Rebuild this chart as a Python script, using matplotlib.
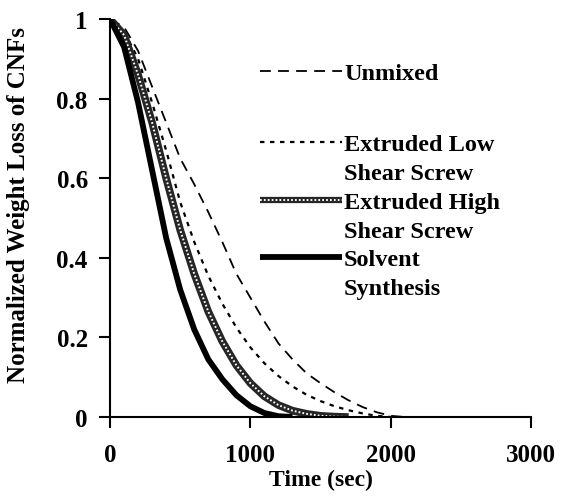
import matplotlib.pyplot as plt
from matplotlib.lines import Line2D

plt.rcParams['font.family'] = ['Liberation Serif', 'DejaVu Serif']
plt.rcParams['font.weight'] = 'bold'
plt.rcParams['axes.labelweight'] = 'bold'

# data (time in sec, normalized weight loss)
t_unmixed = [0, 100, 200, 300, 400, 500, 600, 700, 800, 900, 1000, 1100,
             1200, 1300, 1400, 1500, 1600, 1700, 1800, 1900, 2000, 2100]
w_unmixed = [1.0, 0.98, 0.92, 0.83, 0.74, 0.65, 0.585, 0.515, 0.44, 0.36, 0.30,
             0.24, 0.185, 0.145, 0.11, 0.085, 0.062, 0.042, 0.025, 0.012, 0.003, 0.0]

t_low = [0, 100, 200, 300, 400, 500, 600, 700, 800, 900, 1000, 1100,
         1200, 1300, 1400, 1500, 1600, 1700, 1800, 1900, 2000]
w_low = [1.0, 0.97, 0.90, 0.79, 0.67, 0.54, 0.44, 0.355, 0.285, 0.225, 0.175,
         0.135, 0.103, 0.077, 0.056, 0.04, 0.027, 0.017, 0.009, 0.003, 0.0]

t_high = [0, 100, 200, 300, 400, 500, 600, 700, 800, 900, 1000, 1100,
          1200, 1300, 1400, 1500, 1600, 1700]
w_high = [1.0, 0.96, 0.86, 0.74, 0.60, 0.47, 0.36, 0.265, 0.19, 0.13, 0.085,
          0.052, 0.03, 0.016, 0.008, 0.003, 0.001, 0.0]

t_solv = [0, 100, 200, 300, 400, 500, 600, 700, 800, 900, 1000, 1100, 1200, 1300]
w_solv = [1.0, 0.93, 0.79, 0.62, 0.45, 0.32, 0.22, 0.145, 0.095, 0.055, 0.027,
          0.01, 0.002, 0.0]

labels = [['Unmixed'], ['Extruded Low', 'Shear Screw'],
          ['Extruded High', 'Shear Screw'], ['Solvent', 'Synthesis']]

fig = plt.figure(figsize=(5.68, 5.02), dpi=100)
ax = fig.add_axes([0.1937, 0.1673, 0.7413, 0.7927])

dash_style = dict(color='black', lw=1.3, ls=(0, (6, 4)))
dot_style = dict(color='black', lw=1.6, ls=(0, (2, 2.5)))
solid_style = dict(color='black', lw=4.2, solid_capstyle='butt')
band_outer = dict(color='#262626', lw=5.5, solid_capstyle='butt')
band_inner = dict(color='white', lw=1.4, ls=(0, (0.9, 1.1)))

ax.plot(t_unmixed, w_unmixed, **dash_style)
ax.plot(t_low, w_low, **dot_style)
ax.plot(t_high, w_high, **band_outer)
ax.plot(t_high, w_high, **band_inner)
ax.plot(t_solv, w_solv, **solid_style)

ax.set_xlim(0, 3000)
ax.set_ylim(0, 1)
ax.set_xticks([0, 1000, 2000, 3000])
ax.set_yticks([0, 0.2, 0.4, 0.6, 0.8, 1])
ax.set_yticklabels(['0', '0.2', '0.4', '0.6', '0.8', '1'])
for s in ['top', 'right']:
    ax.spines[s].set_visible(False)
for s in ['left', 'bottom']:
    ax.spines[s].set_linewidth(1.5)
ax.tick_params(axis='x', direction='out', length=8, width=1.5, pad=11, labelsize=18)
ax.tick_params(axis='y', direction='out', length=8, width=1.5, pad=8, labelsize=18)

ax.set_xlabel('Time (sec)', fontsize=17, labelpad=2)
ax.set_ylabel('Normalized Weight Loss of CNFs', fontsize=18, labelpad=5)
ax.yaxis.set_label_coords(-0.19, 0.535)

# legend drawn by hand: handle sits on the first text line (pixel rows of the reference)
def frac(py):
    return (418 - py) / 398.0

first_rows = [72, 143, 201, 258]
line_gap = 29
styles = [[dash_style], [dot_style], [band_outer, band_inner], [solid_style]]
for row, lines, sts in zip(first_rows, labels, styles):
    for st in sts:
        st2 = dict(st)
        if st is band_outer:
            st2['lw'] = 4.5
        ax.add_line(Line2D([0.356, 0.551], [frac(row), frac(row)],
                           transform=ax.transAxes, clip_on=False, **st2))
    for i, txt in enumerate(lines):
        ax.text(0.556, frac(row + 8 + i * line_gap), txt, transform=ax.transAxes,
                fontsize=17.5, va='baseline', ha='left')

fig.savefig('out.png', dpi=100)
